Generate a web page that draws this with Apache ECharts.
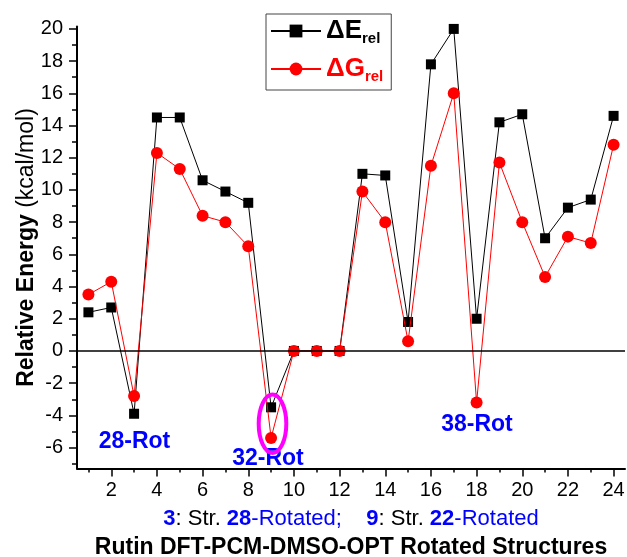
<!DOCTYPE html>
<html><head><meta charset="utf-8">
<script src="https://cdn.jsdelivr.net/npm/echarts@6/dist/echarts.min.js"></script>
<style>html,body{margin:0;padding:0;background:#fff}#c{width:627px;height:557px}</style>
</head><body><div id="c"></div>
<script>
const structures = [1,2,3,4,5,6,7,8,9,10,11,12,13,14,15,16,17,18,19,20,21,22,23,24];
const deltaE = [2.4,2.7,-3.9,14.5,14.5,10.6,9.9,9.2,-3.5,0,0,0,11.0,10.9,1.8,17.8,20.0,2.0,14.2,14.7,7.0,8.9,9.4,14.6];
const deltaG = [3.5,4.3,-2.8,12.3,11.3,8.4,8.0,6.5,-5.4,0,0,0,9.9,8.0,0.6,11.5,16.0,-3.2,11.7,8.0,4.6,7.1,6.7,12.8];
const xMajorTicks = [2,4,6,8,10,12,14,16,18,20,22,24];
const xMinorTicks = [1,3,5,7,9,11,13,15,17,19,21,23];
const yMajorTicks = [-6,-4,-2,0,2,4,6,8,10,12,14,16,18,20];
const yMinorTicks = [-7,-5,-3,-1,1,3,5,7,9,11,13,15,17,19];
const annotations = ['28-Rot','32-Rot','38-Rot'];

const FF = "'Liberation Sans', Arial, sans-serif";
const chart = echarts.init(document.getElementById('c'));
const pairs = arr => structures.map((s,i)=>[s, arr[i]]);
const XMIN = 0.5, XMAX = 24.5, YMIN = -7.3, YMAX = 20.15;

chart.setOption({
  animation: false,
  backgroundColor: '#fff',
  textStyle: { fontFamily: FF },
  grid: { left: 77, right: 2, top: 26.5, bottom: 88.5, containLabel: false, outerBoundsMode: 'none' },
  legend: {
    orient: 'vertical', left: 266, top: 14,
    padding: [4, 8, 6, 4], itemGap: 10, itemWidth: 50, itemHeight: 16,
    borderColor: '#444', borderWidth: 1,
    data: ['E', 'G'],
    formatter: n => n === 'E' ? '{de|ΔE}{se|rel}' : '{dg|ΔG}{sg|rel}',
    textStyle: {
      fontFamily: FF,
      rich: {
        de: { fontSize: 26, fontWeight: 'bold', color: '#000', lineHeight: 30, fontFamily: FF },
        se: { fontSize: 15, fontWeight: 'bold', color: '#000', lineHeight: 10, verticalAlign: 'bottom', fontFamily: FF },
        dg: { fontSize: 26, fontWeight: 'bold', color: '#ff0000', lineHeight: 30, fontFamily: FF },
        sg: { fontSize: 15, fontWeight: 'bold', color: '#ff0000', lineHeight: 10, verticalAlign: 'bottom', fontFamily: FF }
      }
    }
  },
  xAxis: [{
    type: 'value', min: XMIN, max: XMAX, position: 'bottom',
    splitLine: { show: false },
    axisLine: { show: true, onZero: false, lineStyle: { color: '#000', width: 2 } },
    axisTick: { show: true, inside: false, length: 8, customValues: xMajorTicks, lineStyle: { color: '#000', width: 1.5 } },
    axisLabel: { customValues: xMajorTicks, margin: 12, color: '#000', fontSize: 20, fontFamily: FF },
    nameLocation: 'middle', nameGap: 37, nameMoveOverlap: false,
    name: '{b|3}{k|: Str. }{b|28}{r|-Rotated;    }{b|9}{k|: Str. }{b|22}{r|-Rotated}\n{t|Rutin DFT-PCM-DMSO-OPT Rotated Structures}',
    nameTextStyle: {
      fontFamily: FF,
      rich: {
        b: { color: '#0000ff', fontWeight: 'bold', fontSize: 22, lineHeight: 26, fontFamily: FF },
        k: { color: '#000', fontSize: 22, lineHeight: 26, fontFamily: FF },
        r: { color: '#0000ff', fontSize: 22, lineHeight: 26, fontFamily: FF },
        t: { color: '#000', fontWeight: 'bold', fontSize: 23, lineHeight: 32, fontFamily: FF }
      }
    }
  }, {
    type: 'value', min: XMIN, max: XMAX, position: 'bottom',
    splitLine: { show: false },
    axisLine: { show: false, onZero: false },
    axisTick: { show: true, length: 4, customValues: xMinorTicks, lineStyle: { color: '#000', width: 1.5 } },
    axisLabel: { show: false }
  }],
  yAxis: [{
    type: 'value', min: YMIN, max: YMAX, position: 'left',
    splitLine: { show: false },
    axisLine: { show: true, onZero: false, lineStyle: { color: '#000', width: 2 } },
    axisTick: { show: true, length: 8, customValues: yMajorTicks, lineStyle: { color: '#000', width: 1.5 } },
    axisLabel: { customValues: yMajorTicks, margin: 14, color: '#000', fontSize: 20, fontFamily: FF },
    nameLocation: 'middle', nameRotate: 90, nameGap: 39, nameMoveOverlap: false,
    name: '{b|Relative Energy }{n|(kcal/mol)}',
    nameTextStyle: {
      fontFamily: FF,
      rich: {
        b: { fontSize: 23, fontWeight: 'bold', color: '#000', fontFamily: FF },
        n: { fontSize: 23, color: '#000', fontFamily: FF }
      }
    }
  }, {
    type: 'value', min: YMIN, max: YMAX, position: 'left',
    splitLine: { show: false },
    axisLine: { show: false, onZero: false },
    axisTick: { show: true, length: 5, customValues: yMinorTicks, lineStyle: { color: '#000', width: 1.5 } },
    axisLabel: { show: false }
  }],
  series: [{
    name: 'E', type: 'line', xAxisIndex: 0, yAxisIndex: 0,
    data: pairs(deltaE),
    symbol: 'rect', symbolSize: 10,
    lineStyle: { color: '#000', width: 1 },
    itemStyle: { color: '#000' },
    z: 3,
    markLine: {
      silent: true, symbol: 'none', label: { show: false },
      lineStyle: { color: '#000', width: 1.5, type: 'solid' },
      data: [{ yAxis: 0 }]
    }
  }, {
    name: 'G', type: 'line', xAxisIndex: 0, yAxisIndex: 0,
    data: pairs(deltaG),
    symbol: 'circle', symbolSize: 12,
    lineStyle: { color: '#ff0000', width: 1 },
    itemStyle: { color: '#ff0000' },
    z: 4
  }],
  graphic: [
    { type: 'text', x: 134.5, y: 442, z: 10, style: { text: annotations[0], fill: '#0000ff', font: "bold 23px " + FF, align: 'center', verticalAlign: 'middle' } },
    { type: 'text', x: 268, y: 458.5, z: 10, style: { text: annotations[1], fill: '#0000ff', font: "bold 23px " + FF, align: 'center', verticalAlign: 'middle' } },
    { type: 'text', x: 477, y: 425, z: 10, style: { text: annotations[2], fill: '#0000ff', font: "bold 23px " + FF, align: 'center', verticalAlign: 'middle' } },
    { type: 'ellipse', z: 10, shape: { cx: 272.5, cy: 423.8, rx: 13.8, ry: 29.2 }, style: { fill: 'none', stroke: '#ff00ff', lineWidth: 4 } }
  ]
});
</script></body></html>
